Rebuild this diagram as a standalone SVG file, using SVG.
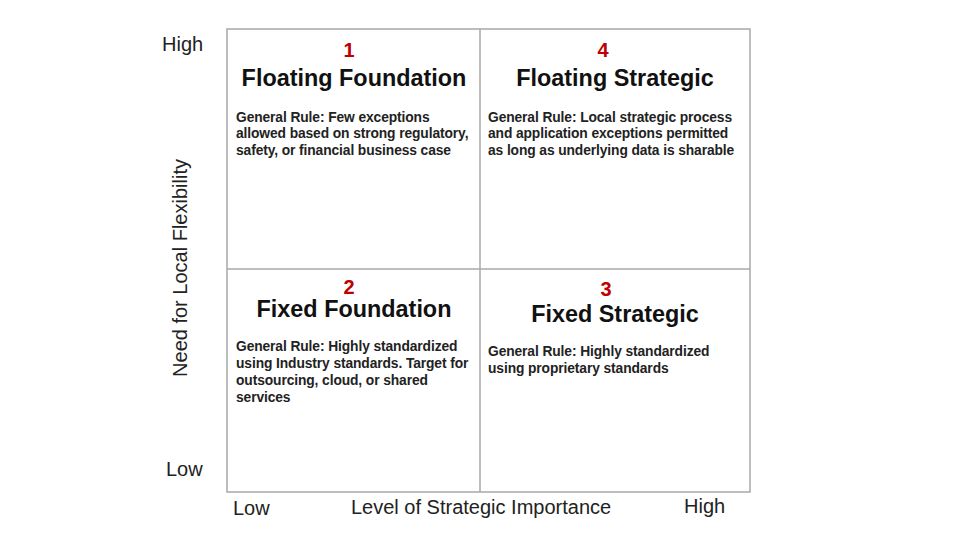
<svg xmlns="http://www.w3.org/2000/svg" width="960" height="541" viewBox="0 0 960 541">
<style>
.ax{font-family:"Liberation Sans",Arial,sans-serif;font-size:20px;fill:#222}
.num{font-family:"Liberation Sans",Arial,sans-serif;font-size:20px;font-weight:bold;fill:#c00000;text-anchor:middle}
.ttl{font-family:"Liberation Sans",Arial,sans-serif;font-size:23.4px;font-weight:bold;fill:#111;text-anchor:middle}
.body{font-family:"Liberation Sans",Arial,sans-serif;font-size:13.8px;font-weight:bold;fill:#222;letter-spacing:-0.1px}
.grid{fill:none;stroke:#a8a8a8;stroke-width:1.5}
</style>
<rect width="960" height="541" fill="#fff"/>
<g id="grid">
<rect class="grid" x="227" y="29" width="523" height="463"/>
<line class="grid" x1="480" y1="29" x2="480" y2="492"/>
<line class="grid" x1="227" y1="269" x2="750" y2="269"/>
</g>
<g id="q1">
<text class="num" x="349" y="57">1</text>
<text class="ttl" x="354" y="86">Floating Foundation</text>
<text class="body" x="236" y="122">General Rule: Few exceptions</text>
<text class="body" x="236" y="138">allowed based on strong regulatory,</text>
<text class="body" x="236" y="155">safety, or financial business case</text>
</g>
<g id="q4">
<text class="num" x="603" y="57">4</text>
<text class="ttl" x="615" y="86">Floating Strategic</text>
<text class="body" x="488" y="122">General Rule: Local strategic process</text>
<text class="body" x="488" y="138">and application exceptions permitted</text>
<text class="body" x="488" y="155">as long as underlying data is sharable</text>
</g>
<g id="q2">
<text class="num" x="349" y="294">2</text>
<text class="ttl" x="354" y="317">Fixed Foundation</text>
<text class="body" x="236" y="351">General Rule: Highly standardized</text>
<text class="body" x="236" y="368">using Industry standards. Target for</text>
<text class="body" x="236" y="385">outsourcing, cloud, or shared</text>
<text class="body" x="236" y="402">services</text>
</g>
<g id="q3">
<text class="num" x="606" y="296">3</text>
<text class="ttl" x="615" y="322">Fixed Strategic</text>
<text class="body" x="488" y="356">General Rule: Highly standardized</text>
<text class="body" x="488" y="373">using proprietary standards</text>
</g>
<g id="axes">
<text class="ax" x="162" y="51">High</text>
<text class="ax" x="166" y="476">Low</text>
<text class="ax" x="233" y="515">Low</text>
<text class="ax" x="351" y="514">Level of Strategic Importance</text>
<text class="ax" x="684" y="513">High</text>
<text class="ax" x="0" y="0" text-anchor="middle" transform="translate(187,268) rotate(-90)">Need for Local Flexibility</text>
</g>
</svg>
